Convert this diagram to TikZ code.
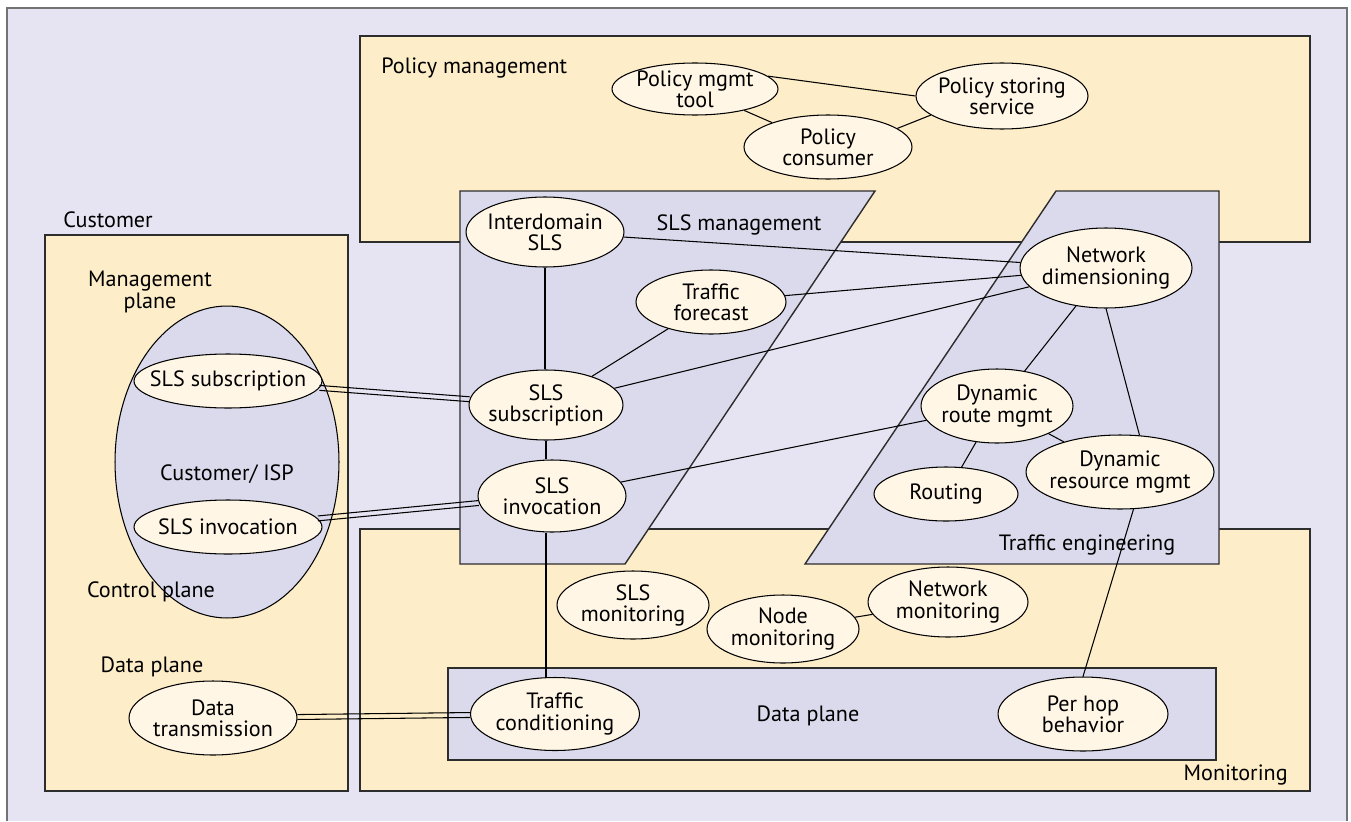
\documentclass[tikz,border=0pt]{standalone}
\usepackage{fontspec}
\setmainfont{PT Sans}
\usetikzlibrary{shapes.geometric, backgrounds}

\definecolor{pagebg}{RGB}{230,228,242}
\definecolor{areafill}{RGB}{253,237,200}
\definecolor{planefill}{RGB}{218,218,236}
\definecolor{procfill}{RGB}{255,246,230}
\definecolor{edgegray}{RGB}{45,45,45}

\begin{document}
\begin{tikzpicture}[
                x=0.02cm, y=-0.02cm,
                font=\fontsize{12.6}{12}\selectfont,
                area/.style={draw=edgegray, line width=0.8pt, fill=areafill},
                plane/.style={draw=edgegray, line width=0.8pt, fill=planefill},
                proc/.style={ellipse, draw=black, line width=0.6pt, fill=procfill, align=center, inner sep=-1cm},
                tag/.style={inner sep=0pt, align=center},
                link/.style={draw=black, line width=0.6pt},
                twin/.style={link, transform canvas={yshift=#1}}
            ]
            \useasboundingbox (0,0) rectangle (1351,821);

            % Backgrounds
            \fill[pagebg] (7,8) rectangle (1347,821);
            \draw[draw=gray!90!black, line width=1pt] (7,821) -- (7,8) -- (1347,8) -- (1347,821);

            \draw[area] (360,36) rectangle (1310,242);
            \draw[area] (360,529) rectangle (1310,791);
            \draw[area] (45,235) rectangle (348,791);
            \draw[plane] (448,668) rectangle (1216,760);
            \draw[plane] (460,191) -- (875,191) -- (625,564) -- (460,564) -- cycle;
            \draw[plane] (1056,191) -- (1219,191) -- (1219,564) -- (805,564) -- cycle;
            \node[ellipse, draw=black, line width=0.6pt, fill=planefill, minimum width=4.48cm, minimum height=6.24cm] (isp) at (227,462) {};

            % Area names
            \node[tag, anchor=west] (polname) at (381,68) {Policy management};
            \node[tag, anchor=west] (custname) at (63,220) {Customer};
            \node[tag] (mgmtname) at (150,292) {Management\\plane};
            \node[tag] (ispname) at (227,474) {Customer/ ISP};
            \node[tag] (ctrlname) at (151,592) {Control plane};
            \node[tag] (cdataname) at (152,667) {Data plane};
            \node[tag] (slsname) at (739,225) {SLS management};
            \node[tag] (tename) at (1087,545) {Traffic engineering};
            \node[tag] (dataname) at (808,716) {Data plane};
            \node[tag, anchor=east] (monname) at (1288,775) {Monitoring};

            % Nodes
            \node[proc, minimum width=3.32cm, minimum height=1.04cm] (pmtool) at (695,89) {Policy mgmt\\tool};
            \node[proc, minimum width=3.44cm, minimum height=1.32cm] (pstore) at (1002,96) {Policy storing\\service};
            \node[proc, minimum width=3.36cm, minimum height=1.28cm] (pcons) at (828,147) {Policy\\consumer};

            \node[proc, minimum width=3.16cm, minimum height=1.40cm] (interdom) at (545,232) {Interdomain\\SLS};
            \node[proc, minimum width=3.00cm, minimum height=1.28cm] (forecast) at (711,302) {Traffic\\forecast};
            \node[proc, minimum width=3.08cm, minimum height=1.40cm] (slssub) at (546,405) {SLS\\subscription};
            \node[proc, minimum width=2.96cm, minimum height=1.44cm] (slsinv) at (552,496) {SLS\\invocation};

            \node[proc, minimum width=3.44cm, minimum height=1.60cm] (netdim) at (1106,268) {Network\\dimensioning};
            \node[proc, minimum width=3.04cm, minimum height=1.48cm] (droute) at (997,406) {Dynamic\\route mgmt};
            \node[proc, minimum width=2.88cm, minimum height=1.08cm] (routing) at (946,494) {Routing};
            \node[proc, minimum width=3.76cm, minimum height=1.48cm] (dres) at (1120,472) {Dynamic\\resource mgmt};

            \node[proc, minimum width=3.04cm, minimum height=1.36cm] (slsmon) at (633,605) {SLS\\monitoring};
            \node[proc, minimum width=3.04cm, minimum height=1.36cm] (nodemon) at (783,629) {Node\\monitoring};
            \node[proc, minimum width=3.20cm, minimum height=1.40cm] (netmon) at (948,602) {Network\\monitoring};
            \node[proc, minimum width=3.38cm, minimum height=1.46cm] (tcond) at (555,714) {Traffic\\conditioning};
            \node[proc, minimum width=3.40cm, minimum height=1.48cm] (phb) at (1083,714) {Per hop\\behavior};

            \node[proc, minimum width=3.76cm, minimum height=1.08cm] (csub) at (228,381) {SLS subscription};
            \node[proc, minimum width=3.76cm, minimum height=1.08cm] (cinv) at (228,527) {SLS invocation};
            \node[proc, minimum width=3.36cm, minimum height=1.48cm] (datatx) at (213,718) {Data\\transmission};

            % Routing/edges
            \draw[link] (pmtool.10) -- (pstore.west);
            \draw[link] (pmtool) -- (pcons);
            \draw[link] (pcons.15) -- (pstore.195);

            \draw[link] (interdom) -- (netdim);
            \draw[link] (interdom.south) -- (interdom.south |- slssub.north);
            \draw[link] (forecast) -- (netdim);
            \draw[link] (slssub) -- (forecast);
            \draw[link] (slssub) -- (netdim);
            \draw[link] (slssub.south) -- (slssub.south |- slsinv.north);
            \draw[link] (slsinv) -- (droute);
            \draw[link] (slsinv.south -| slssub.south) -- (tcond.north -| slssub.south);

            \draw[link] (netdim) -- (droute);
            \draw[link] (netdim.south) -- (dres.62);
            \draw[link] (droute) -- (dres);
            \draw[link] (droute) -- (routing);
            \draw[link] (dres.-70) -- (phb.north);
            \draw[link] (nodemon) -- (netmon);

            % Customer <-> provider
            \draw[twin=1.4pt] (csub) -- (slssub);
            \draw[twin=-1.4pt] (csub) -- (slssub);
            \draw[twin=1.4pt] (cinv) -- (slsinv);
            \draw[twin=-1.4pt] (cinv) -- (slsinv);
            \draw[twin=1.4pt] (datatx) -- (tcond);
            \draw[twin=-1.4pt] (datatx) -- (tcond);

        \end{tikzpicture}
\end{document}
